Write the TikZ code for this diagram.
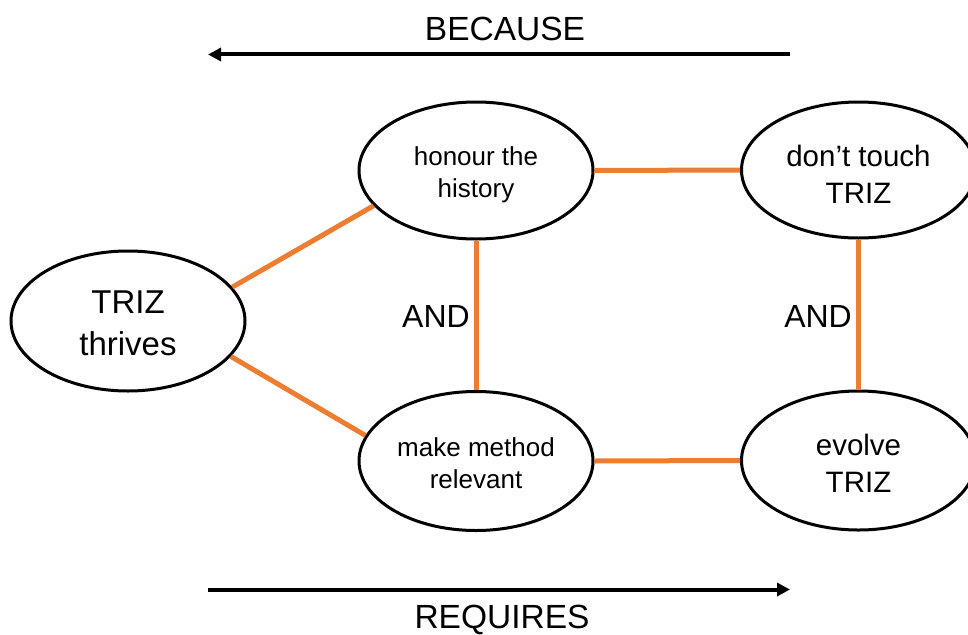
\documentclass[tikz,border=0pt]{standalone}
\usepackage{fontspec}
\setmainfont{Liberation Sans}
\usetikzlibrary{shapes.geometric,arrows.meta}
\definecolor{linkorange}{RGB}{237,125,49}
\begin{document}
\begin{tikzpicture}[x=1pt,y=-1pt,
  bubble/.style={ellipse,draw=black,line width=3pt,inner sep=0pt,
    minimum width=234pt,minimum height=138pt},
  words/.style={align=center,inner sep=0pt},
  bigtxt/.style={words,font=\fontsize{33}{42}\selectfont},
  midtxt/.style={words,font=\fontsize{29.5}{37}\selectfont},
  smalltxt/.style={words,font=\fontsize{26}{32}\selectfont},
  link/.style={draw=linkorange,line width=5pt},
  flow/.style={line width=4pt,-{Triangle[length=13pt,width=13pt]}},
  caption/.style={font=\fontsize{33.5}{40}\selectfont,anchor=base},
  andlabel/.style={font=\fontsize{32}{38}\selectfont,anchor=base east,inner sep=0pt}]
\useasboundingbox (0,0) rectangle (968,634);

% the five statements
\node[bubble,minimum height=140pt] (thrives) at (128,321) {};
\node[bubble,minimum height=137pt] (honour) at (476,170.5) {};
\node[bubble,minimum height=136pt] (touch) at (858.5,170) {};
\node[bubble,minimum height=139pt] (make) at (476,461) {};
\node[bubble,minimum height=139pt] (evolve) at (858.5,460.5) {};

\node[bigtxt] (thrivestxt) at ([yshift=-2pt]thrives.center) {TRIZ\\thrives};
\node[smalltxt] (honourtxt) at ([yshift=-4pt]honour.center) {honour the\\history};
\node[midtxt] (touchtxt) at ([yshift=-4pt]touch.center) {don’t touch\\TRIZ};
\node[smalltxt] (maketxt) at ([yshift=-2pt]make.center) {make method\\relevant};
\node[midtxt] (evolvetxt) at ([yshift=-3pt]evolve.center) {evolve\\TRIZ};

% links between statements
\draw[link] (thrives.18) -- (honour.199);
\draw[link] (thrives.-19) -- (make.167);
\draw[link] (honour.east) -- (touch.west);
\draw[link] (make.east) -- (evolve.west);
\draw[link] (honour.south) -- (make.north);
\draw[link] (touch.south) -- (evolve.north);

% AND labels beside the vertical links
\node[andlabel] (and1) at (470,327) {AND};
\node[andlabel] (and2) at (852,327) {AND};

% reading directions
\coordinate (topR) at (790,54.5);
\coordinate (topL) at (208,54.5);
\coordinate (botL) at (208,589.5);
\coordinate (botR) at (790,589.5);
\draw[flow] (topR) -- (topL);
\draw[flow] (botL) -- (botR);
\node[caption] (because) at (505,41) {BECAUSE};
\node[caption] (requires) at (502,628) {REQUIRES};
\end{tikzpicture}
\end{document}
